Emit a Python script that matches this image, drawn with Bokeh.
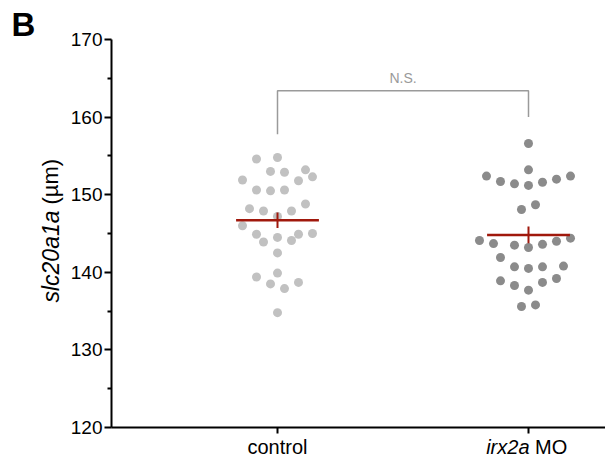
import numpy as np
from bokeh.plotting import figure
from bokeh.models import Label, FixedTicker, Range1d, ColumnDataSource
from bokeh.embed import file_html
from bokeh.resources import INLINE

# ---- data ----
groups = ["control", "irx2a MO"]
control_values = [154.6, 154.8, 153.0, 152.9, 153.2, 152.3, 151.9, 151.8, 150.6, 150.5,
                  150.6, 148.2, 147.9, 147.9, 148.8, 147.2, 146.0, 144.9, 143.9, 144.5,
                  144.1, 144.9, 145.0, 142.5, 139.4, 139.9, 138.5, 137.9, 138.7, 134.8]
control_swarm_col = [-3, 0, -1, 1, 4, 5, -5, 3, -3, -1,
                     1, -4, -2, 2, 4, 0, -5, -3, -2, 0,
                     2, 3, 5, 0, -3, 0, -1, 1, 3, 0]
irx2a_values = [156.6, 153.2, 152.4, 151.7, 151.4, 151.2, 151.6, 152.0, 152.4, 148.1,
                148.7, 144.1, 143.7, 143.5, 143.2, 143.6, 144.0, 144.4, 141.9, 140.7,
                140.5, 140.7, 140.8, 138.9, 138.3, 137.7, 138.7, 139.2, 135.6, 135.8]
irx2a_swarm_col = [0, 0, -6, -4, -2, 0, 2, 4, 6, -1,
                   1, -7, -5, -2, 0, 2, 4, 6, -4, -2,
                   0, 2, 5, -4, -2, 0, 2, 4, -1, 1]
y_ticks = [120, 130, 140, 150, 160, 170]
y_minor = [125, 135, 145, 155, 165]
y_min, y_max = 120, 170
significance = "N.S."

# ---- styling / layout constants ----
FONT = "Liberation Sans"
W, H = 605, 462
PX_X = 251.0               # pixels per group unit
PX_Y = 7.76                # pixels per y unit
X_FIRST_PX, Y_BOTTOM_PX = 277.0, 427.0
AXIS_PX = 111.0
x_start = 1 - X_FIRST_PX / PX_X
x_end = 1 + (W - X_FIRST_PX) / PX_X
y_start = y_min - (H - Y_BOTTOM_PX) / PX_Y
y_end = y_min + Y_BOTTOM_PX / PX_Y
x_axis_pos = 1 + (AXIS_PX - X_FIRST_PX) / PX_X

STEP = 7.0 / PX_X          # swarm column spacing in x data units
HALF = 0.165               # half-width of mean line
COLORS = ["#c1c1c1", "#8b8b8b"]
RED = "#a0180c"
GRAY = "#9a9a9a"

p = figure(width=W, height=H,
           x_range=Range1d(x_start, x_end), y_range=Range1d(y_start, y_end),
           output_backend="svg", toolbar_location=None,
           min_border=0, min_border_left=0, min_border_right=0,
           min_border_top=0, min_border_bottom=0)
p.outline_line_color = None
p.xgrid.visible = False
p.ygrid.visible = False
p.background_fill_color = "white"
p.border_fill_color = "white"

series = [(control_values, control_swarm_col), (irx2a_values, irx2a_swarm_col)]
for i, (vals, cols) in enumerate(series):
    gx = i + 1
    xs = [gx + c * STEP for c in cols]
    src = ColumnDataSource(dict(x=xs, y=vals))
    p.scatter("x", "y", source=src, size=9, fill_color=COLORS[i], line_color=None)
    arr = np.array(vals)
    m = arr.mean()
    sem = arr.std(ddof=1) / np.sqrt(len(arr))
    p.segment(x0=[gx - HALF], y0=[m], x1=[gx + HALF], y1=[m], line_color=RED, line_width=2.5)
    p.segment(x0=[gx], y0=[m - sem], x1=[gx], y1=[m + sem], line_color=RED, line_width=2)

# significance bracket
p.line(x=[1, 1, 2, 2], y=[157.8, 163.4, 163.4, 160.0], line_color=GRAY, line_width=1.5)
p.add_layout(Label(x=1.5, y=163.4, y_offset=13, text=significance, text_align="center",
                   text_baseline="middle", text_font=FONT, text_font_size="14px",
                   text_color=GRAY))

# axes (fixed inside the frame so that free labels are not clipped)
xa = p.xaxis[0]
xa.fixed_location = y_min
xa.bounds = (x_axis_pos, x_end)
xa.ticker = FixedTicker(ticks=[1, 2], minor_ticks=[])
xa.major_label_overrides = {1: groups[0], 2: ""}
xa.major_label_text_font = FONT
xa.major_label_text_font_size = "20px"
xa.major_label_text_color = "black"
xa.major_label_standoff = 2
xa.major_tick_out = 6
xa.major_tick_in = 0
xa.axis_line_width = 2
xa.major_tick_line_width = 2
xa.axis_line_color = "black"

ya = p.yaxis[0]
ya.fixed_location = x_axis_pos
ya.bounds = (y_min, y_max)
ya.ticker = FixedTicker(ticks=y_ticks, minor_ticks=y_minor)
ya.major_label_text_font = FONT
ya.major_label_text_font_size = "19px"
ya.major_label_text_color = "black"
ya.major_label_standoff = 2
ya.major_tick_out = 7
ya.major_tick_in = 0
ya.minor_tick_out = 4
ya.minor_tick_in = 0
ya.axis_line_width = 2
ya.major_tick_line_width = 2
ya.minor_tick_line_width = 2
ya.axis_line_color = "black"

# x tick label with italic part
p.add_layout(Label(x=2, y=y_min, x_offset=1, y_offset=-19, text="irx2a", text_align="right",
                   text_baseline="middle", text_font=FONT, text_font_size="20px",
                   text_font_style="italic", text_color="black"))
p.add_layout(Label(x=2, y=y_min, x_offset=6.5, y_offset=-19, text="MO", text_align="left",
                   text_baseline="middle", text_font=FONT, text_font_size="20px",
                   text_color="black"))

# y axis title (rotated, italic gene name)
p.add_layout(Label(x=x_axis_pos, y=y_min, x_offset=-61, y_offset=217, angle=np.pi / 2,
                   text="slc20a1a", text_align="right", text_baseline="middle",
                   text_font=FONT, text_font_size="23px", text_font_style="italic",
                   text_color="black"))
p.add_layout(Label(x=x_axis_pos, y=y_min, x_offset=-61, y_offset=223, angle=np.pi / 2,
                   text="(µm)", text_align="left", text_baseline="middle",
                   text_font=FONT, text_font_size="22px", text_color="black"))

# panel letter
p.add_layout(Label(x=x_axis_pos, y=y_min, x_offset=-100, y_offset=403, text="B",
                   text_align="left", text_baseline="middle", text_font=FONT,
                   text_font_size="33px", text_font_style="bold", text_color="black"))

open("out.html", "w").write(file_html(p, INLINE))
